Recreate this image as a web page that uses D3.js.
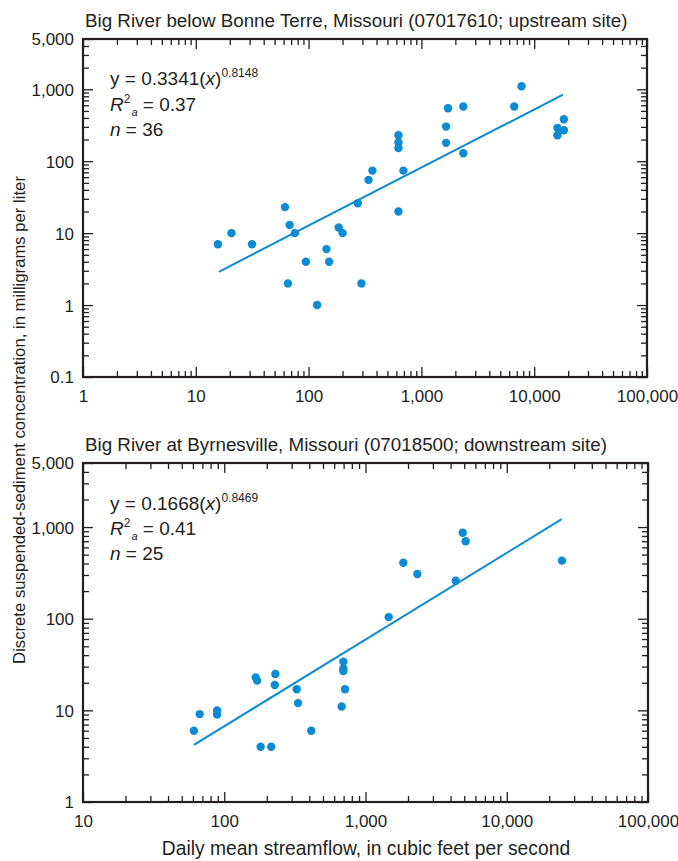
<!DOCTYPE html>
<html>
<head>
<meta charset="utf-8">
<script src="https://cdn.jsdelivr.net/npm/d3@7"></script>
<style>
  body { margin: 0; background: #fff; }
  text { fill: #231f20; }
  .tick text { font-family: "Liberation Sans Narrow", "Arial Narrow", "Liberation Sans", sans-serif; font-size: 17px; }
  .narrow { font-family: "Liberation Sans Narrow", "Arial Narrow", "Liberation Sans", sans-serif; }
  .wide { font-family: "Liberation Sans", Arial, sans-serif; }
</style>
</head>
<body>
<script>
var width = 678,
    height = 861,
    blue = "#0a8bd3",
    ink = "#231f20"

// upstream site (07017610), flow in ft3/s, concentration in mg/L
var upFlow = [15.7, 20.7, 31.5, 61.7, 67.9, 65.6, 75.6, 94.6, 119, 144, 152, 185, 200, 273, 294, 340,
    368, 626, 626, 626, 626, 693, 1655, 1655, 1722, 2354, 2354, 6650, 7720, 16070, 16070, 18330, 18330]
var upConc = [7, 10, 7, 23, 13, 2, 10, 4, 1, 6, 4, 12, 10, 26, 2, 55,
    74, 230, 182, 152, 20, 74, 303, 180, 545, 575, 129, 575, 1100, 290, 230, 383, 270]
var upFitFlow = [16, 18000]
var upFitConc = [2.9, 840]
var upN = 36

// downstream site (07018500)
var downFlow = [61, 67, 89, 89, 167, 171, 181, 215, 230, 228, 326, 333, 413, 678, 697, 697, 697, 716,
    1459, 1853, 2328, 4355, 4878, 5120, 24600]
var downConc = [6, 9.1, 10, 9, 22.9, 21.1, 4, 4, 24.9, 18.9, 17, 12, 6, 11, 34, 28.7, 26.9, 17,
    104, 408, 307, 260, 867, 699, 430]
var downFitFlow = [61, 24500]
var downFitConc = [4.2, 1220]
var downN = 25

var upTitle = "Big River below Bonne Terre, Missouri (07017610; upstream site)"
var downTitle = "Big River at Byrnesville, Missouri (07018500; downstream site)"

var svg = d3.select("body").append("svg")
    .attr("width", width)
    .attr("height", height)

function minors(lo, hi) {
  var out = []
  for (var e = Math.floor(Math.log10(lo)); e <= Math.ceil(Math.log10(hi)); e++) {
    for (var k = 2; k <= 9; k++) {
      var v = k * Math.pow(10, e)
      if (v > lo && v < hi) out.push(v)
    }
  }
  return out
}

function panel(o) {
  var w = o.right - o.left, h = o.bottom - o.top
  var g = svg.append("g").attr("transform", "translate(" + o.left + "," + o.top + ")")

  var x = d3.scaleLog().domain(o.xDomain).range([0, w])
  var y = d3.scaleLog().domain(o.yDomain).range([h, 0])

  var xMinor = minors(o.xDomain[0], o.xDomain[1])
  var yMinor = minors(o.yDomain[0], o.yDomain[1])
  var fmt = d3.format(",")

  function style(a) {
    a.select(".domain").remove()
    a.selectAll(".tick line").attr("stroke", ink).attr("stroke-width", 1.3)
    a.selectAll(".tick text").attr("fill", ink).attr("dy", "0.35em")
  }

  // labelled axes, ticks pointing inward
  g.append("g").attr("transform", "translate(0," + h + ")")
      .call(d3.axisBottom(x).tickValues(o.xMajor).tickFormat(fmt).tickSize(-10).tickPadding(19))
      .call(style)
  g.append("g")
      .call(d3.axisLeft(y).tickValues(o.yMajor).tickFormat(fmt).tickSize(-10).tickPadding(9))
      .call(style)
  g.append("g").call(d3.axisTop(x).tickValues(o.xMajor).tickFormat("").tickSize(-10)).call(style)
  g.append("g").attr("transform", "translate(" + w + ",0)")
      .call(d3.axisRight(y).tickValues(o.yMajor).tickFormat("").tickSize(-10)).call(style)

  // minor ticks
  g.append("g").attr("transform", "translate(0," + h + ")")
      .call(d3.axisBottom(x).tickValues(xMinor).tickFormat("").tickSize(-6)).call(style)
  g.append("g").call(d3.axisTop(x).tickValues(xMinor).tickFormat("").tickSize(-6)).call(style)
  g.append("g").call(d3.axisLeft(y).tickValues(yMinor).tickFormat("").tickSize(-6)).call(style)
  g.append("g").attr("transform", "translate(" + w + ",0)")
      .call(d3.axisRight(y).tickValues(yMinor).tickFormat("").tickSize(-6)).call(style)

  // frame
  g.append("rect")
      .attr("width", w).attr("height", h)
      .attr("fill", "none").attr("stroke", ink).attr("stroke-width", 2.2)

  // fitted line
  var fit = o.fitFlow.map(function(d, i) { return [d, o.fitConc[i]] })
  g.append("path")
      .datum(fit)
      .attr("fill", "none").attr("stroke", blue).attr("stroke-width", 2)
      .attr("d", d3.line().x(function(d) { return x(d[0]) }).y(function(d) { return y(d[1]) }))

  // samples
  g.selectAll("circle.pt")
      .data(o.flow.map(function(d, i) { return [d, o.conc[i]] }))
      .enter().append("circle")
      .attr("class", "pt")
      .attr("cx", function(d) { return x(d[0]) })
      .attr("cy", function(d) { return y(d[1]) })
      .attr("r", 4.2)
      .attr("fill", blue)

  // title
  svg.append("text").attr("class", "wide")
      .attr("x", o.left + 2).attr("y", o.top - 12)
      .style("font-size", "18.8px")
      .text(o.title)

  // regression text
  var t = g.append("g").attr("class", "narrow").style("font-size", "19px")
  var eq = t.append("text").attr("x", 27).attr("y", o.eqY)
  eq.append("tspan").text("y = " + o.coef + "(")
  eq.append("tspan").style("font-style", "italic").text("x")
  eq.append("tspan").text(")")
  eq.append("tspan").attr("dy", -8).style("font-size", "12px").text(o.expo)

  var r2 = t.append("text").attr("x", 27).attr("y", o.eqY + o.gap)
  r2.append("tspan").style("font-style", "italic").text("R")
  r2.append("tspan").attr("dy", -8).style("font-size", "12px").text("2")
  r2.append("tspan").attr("dy", 13).attr("dx", 1).style("font-size", "11px").style("font-style", "italic").text("a")
  r2.append("tspan").attr("dy", -5).text(" = " + o.r2)

  var nn = t.append("text").attr("x", 27).attr("y", o.eqY + 2 * o.gap)
  nn.append("tspan").style("font-style", "italic").text("n")
  nn.append("tspan").text(" = " + o.n)
}

panel({
  left: 83, right: 647, top: 39, bottom: 377,
  xDomain: [1, 100000], yDomain: [0.1, 5000],
  xMajor: [1, 10, 100, 1000, 10000, 100000],
  yMajor: [0.1, 1, 10, 100, 1000, 5000],
  flow: upFlow, conc: upConc, fitFlow: upFitFlow, fitConc: upFitConc, n: upN,
  title: upTitle, coef: "0.3341", expo: "0.8148", r2: "0.37",
  eqY: 46, gap: 25.5
})

panel({
  left: 83, right: 648, top: 463, bottom: 802,
  xDomain: [10, 100000], yDomain: [1, 5000],
  xMajor: [10, 100, 1000, 10000, 100000],
  yMajor: [1, 10, 100, 1000, 5000],
  flow: downFlow, conc: downConc, fitFlow: downFitFlow, fitConc: downFitConc, n: downN,
  title: downTitle, coef: "0.1668", expo: "0.8469", r2: "0.41",
  eqY: 47, gap: 25
})

svg.append("text").attr("class", "wide")
    .attr("transform", "translate(25,420) rotate(-90)")
    .attr("text-anchor", "middle")
    .style("font-size", "16.7px")
    .text("Discrete suspended-sediment concentration, in milligrams per liter")

svg.append("text").attr("class", "wide")
    .attr("x", 366).attr("y", 855)
    .attr("text-anchor", "middle")
    .style("font-size", "19.3px")
    .text("Daily mean streamflow, in cubic feet per second")
</script>
</body>
</html>
